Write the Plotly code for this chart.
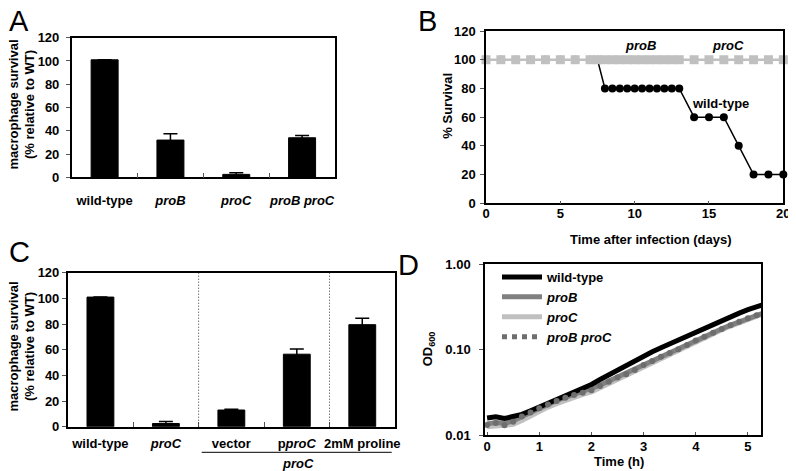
import plotly.graph_objects as go

# page body keeps an 8px margin, so the figure is drawn 8px smaller and offset
W, H = 796, 471
OFF = 8
FW, FH = W - OFF, H - OFF
FONT = "Liberation Sans, Arial, sans-serif"

# ── A: macrophage survival of proline mutants ──
A_STRAINS = ["wild-type", "proB", "proC", "proB proC"]
A_LABELS = ["<b>wild-type</b>", "<b><i>proB</i></b>", "<b><i>proC</i></b>", "<b><i>proB proC</i></b>"]
A_SURVIVAL = [101, 32, 2.5, 34]
A_ERR = [0, 5.5, 1.5, 2]

# ── B: survival after infection ──
B_DAYS = [0, 1, 2, 3, 4, 5, 6, 7, 7.5, 8, 8.5, 9, 9.5, 10, 10.5, 11, 11.5,
          12, 12.5, 13, 14, 15, 16, 17, 18, 19, 20]
B_WT = [100, 100, 100, 100, 100, 100, 100, 100, 100, 80, 80, 80, 80, 80, 80,
        80, 80, 80, 80, 80, 60, 60, 60, 40, 20, 20, 20]
B_MUT_DAYS = [0, 1, 2, 3, 4, 5, 6, 7, 7.5, 8, 8.5, 9, 9.5, 10, 10.5, 11, 11.5,
              12, 12.5, 13, 14, 15, 16, 17, 18, 19, 20]
B_MUT = [100, 100, 100, 100, 100, 100, 100, 100, 100, 100, 100, 100, 100, 100,
         100, 100, 100, 100, 100, 100, 100, 100, 100, 100, 100, 100, 100]

# ── C: complementation ──
C_STRAINS = ["wild-type", "proC", "vector", "pproC", "2mM proline"]
C_LABELS = ["<b>wild-type</b>", "<b><i>proC</i></b>", "<b>vector</b>",
            "<b>p<i>proC</i></b>", "<b>2mM proline</b>"]
C_SURVIVAL = [101, 2.5, 13, 56.5, 79.5]
C_ERR = [0, 1.5, 0.5, 4, 5]

# ── D: growth curves (OD600), every 10 min ──
D_TIME_MIN = [0, 10, 20, 30, 40, 50, 60, 70, 80, 90, 100, 110, 120, 130, 140,
              150, 160, 170, 180, 190, 200, 210, 220, 230, 240, 250, 260, 270,
              280, 290, 300, 310, 320]
D_WT = [0.0158, 0.0163, 0.0156, 0.0162, 0.0174, 0.0192, 0.0212, 0.0234,
        0.0257, 0.0282, 0.0310, 0.0345, 0.0390, 0.0446, 0.0508, 0.0578,
        0.0644, 0.0730, 0.0845, 0.0940, 0.1050, 0.1165, 0.1290, 0.1450,
        0.1625, 0.1800, 0.1990, 0.2210, 0.2420, 0.2660, 0.2920, 0.3180, 0.3400]
D_PROB = [0.0135, 0.0140, 0.0137, 0.0146, 0.0165, 0.0185, 0.0207, 0.0230,
          0.0253, 0.0276, 0.0298, 0.0320, 0.0343, 0.0383, 0.0428, 0.0478,
          0.0525, 0.0585, 0.0670, 0.0745, 0.0830, 0.0920, 0.1020, 0.1140,
          0.1280, 0.1420, 0.1580, 0.1750, 0.1930, 0.2120, 0.2330, 0.2530, 0.2730]
D_PROC = [0.0125, 0.0128, 0.0127, 0.0133, 0.0148, 0.0168, 0.0190, 0.0212,
          0.0233, 0.0255, 0.0277, 0.0298, 0.0320, 0.0358, 0.0402, 0.0450,
          0.0497, 0.0555, 0.0635, 0.0712, 0.0795, 0.0885, 0.0985, 0.1100,
          0.1235, 0.1375, 0.1530, 0.1700, 0.1880, 0.2070, 0.2270, 0.2470, 0.2670]
D_PROBC = [0.0131, 0.0138, 0.0130, 0.0143, 0.0165, 0.0183, 0.0205, 0.0228,
           0.0250, 0.0272, 0.0293, 0.0313, 0.0334, 0.0375, 0.0420, 0.0470,
           0.0515, 0.0575, 0.0660, 0.0735, 0.0820, 0.0910, 0.1010, 0.1130,
           0.1270, 0.1410, 0.1570, 0.1740, 0.1920, 0.2110, 0.2320, 0.2520, 0.2720]
D_HOURS = [m / 60 for m in D_TIME_MIN]

LIGHT = "#c0c0c0"
MID = "#808080"
DOTS = "#6e6e6e"


def px(x):
    return (x - OFF) / FW


def py(y):
    return 1 - (y - OFF) / FH


def bold(size=13):
    return dict(family=FONT, size=size, color="black", weight="bold")


fig = go.Figure()

# A bars
fig.add_trace(go.Bar(
    x=A_STRAINS, y=A_SURVIVAL, width=0.41,
    marker=dict(color="black", line=dict(color="black", width=1)),
    error_y=dict(type="data", array=A_ERR, color="black", thickness=1.5, width=7),
    showlegend=False, xaxis="x", yaxis="y",
))

# B survival
fig.add_trace(go.Scatter(
    x=B_DAYS, y=B_WT, mode="lines+markers",
    line=dict(color="black", width=1.5),
    marker=dict(color="black", size=8, symbol="circle"),
    showlegend=False, xaxis="x2", yaxis="y2", cliponaxis=False,
))
fig.add_trace(go.Scatter(
    x=B_MUT_DAYS, y=B_MUT, mode="lines+markers",
    line=dict(color=LIGHT, width=2.5),
    marker=dict(color=LIGHT, size=9, symbol="square"),
    showlegend=False, xaxis="x2", yaxis="y2", cliponaxis=False,
))

# C bars
fig.add_trace(go.Bar(
    x=C_STRAINS, y=C_SURVIVAL, width=0.41,
    marker=dict(color="black", line=dict(color="black", width=1)),
    error_y=dict(type="data", array=C_ERR, color="black", thickness=1.5, width=7),
    showlegend=False, xaxis="x3", yaxis="y3",
))

# D growth curves
fig.add_trace(go.Scatter(
    x=D_HOURS, y=D_PROC, mode="lines", name="<b><i>proC</i></b>", legendrank=3,
    line=dict(color=LIGHT, width=5), xaxis="x4", yaxis="y4",
))
fig.add_trace(go.Scatter(
    x=D_HOURS, y=D_PROB, mode="lines", name="<b><i>proB</i></b>", legendrank=2,
    line=dict(color=MID, width=5), xaxis="x4", yaxis="y4",
))
fig.add_trace(go.Scatter(
    x=D_HOURS, y=D_WT, mode="lines", name="<b>wild-type</b>", legendrank=1,
    line=dict(color="black", width=5), xaxis="x4", yaxis="y4",
))
fig.add_trace(go.Scatter(
    x=D_HOURS, y=D_PROBC, mode="markers", showlegend=False,
    marker=dict(color=DOTS, size=6), xaxis="x4", yaxis="y4",
))
# legend entry for the dotted series
fig.add_trace(go.Scatter(
    x=[None], y=[None], mode="lines", name="<b><i>proB proC</i></b>", legendrank=4,
    line=dict(color=DOTS, width=5, dash="dot"), xaxis="x4", yaxis="y4",
))

box = dict(showline=True, mirror=True, linecolor="black", linewidth=1.5,
           showgrid=False, zeroline=False, tickfont=bold(13), automargin=False,
           tickcolor="#555", ticklen=4, tickangle=0)

fig.update_layout(
    template="none",
    width=FW, height=FH,
    margin=dict(l=0, r=0, t=0, b=0, pad=0),
    paper_bgcolor="white", plot_bgcolor="white",
    font=bold(13),
    xaxis=dict(box, domain=[px(71.7), px(335)], anchor="y",
               tickvals=A_STRAINS, ticktext=A_LABELS, range=[-0.5, 3.5],
               ticks="inside", tickson="boundaries", ticklen=5,
               ticklabelstandoff=10),
    yaxis=dict(box, domain=[py(177.3), py(37.7)], anchor="x",
               range=[0, 120], dtick=20, ticks="outside", ticklabelstandoff=4),
    xaxis2=dict(box, domain=[px(486), px(783.3)], anchor="y2",
                range=[0, 20], dtick=5, ticks="inside", ticklen=3,
                ticklabelstandoff=-3),
    yaxis2=dict(box, domain=[py(203.3), py(31)], anchor="x2",
                range=[0, 120], dtick=20, ticks="outside", ticklabelstandoff=2),
    xaxis3=dict(box, domain=[px(67.7), px(395)], anchor="y3",
                tickvals=C_STRAINS, ticktext=C_LABELS, range=[-0.5, 4.5],
                ticks="inside", tickson="boundaries", ticklen=5,
                ticklabelstandoff=4),
    yaxis3=dict(box, domain=[py(426.7), py(272.7)], anchor="x3",
                range=[0, 120], dtick=20, ticks="outside", ticklabelstandoff=0),
    xaxis4=dict(box, domain=[px(485), px(761)], anchor="y4",
                range=[-0.04, 5.25], dtick=1, ticks="inside", ticklen=3,
                ticklabelstandoff=-1),
    yaxis4=dict(box, domain=[py(435), py(264)], anchor="x4",
                type="log", range=[-2, 0], tickvals=[0.01, 0.1, 1],
                ticktext=["0.01", "0.10", "1.00"], ticks="outside",
                ticklabelstandoff=6),
    legend=dict(x=px(497), y=py(262), xanchor="left", yanchor="top",
                bgcolor="rgba(0,0,0,0)", font=bold(13), itemwidth=40,
                tracegroupgap=0, traceorder="normal", borderwidth=0),
)

# dotted separators and group underline in C
for xv in (1.5, 3.5):
    fig.add_shape(type="line", xref="x3", yref="y3 domain", x0=xv, x1=xv,
                  y0=0, y1=1, line=dict(color="#333", width=1, dash="1px,2px"))
fig.add_shape(type="line", xref="paper", yref="paper",
              x0=px(201.7), x1=px(391.7), y0=py(452.3), y1=py(452.3),
              line=dict(color="black", width=1))

ann = []


def note(x, y, text, size=13, angle=0, weight="bold", xref="paper", yref="paper"):
    if weight == "bold":
        text = "<b>" + text + "</b>"
    ann.append(dict(x=x, y=y, xref=xref, yref=yref, text=text, showarrow=False,
                    textangle=angle, xanchor="center", yanchor="middle",
                    font=dict(family=FONT, size=size, color="black", weight=weight)))


# panel letters
note(px(19), py(21), "A", size=29, weight="normal")
note(px(427), py(21), "B", size=29, weight="normal")
note(px(19), py(252), "C", size=29, weight="normal")
note(px(408), py(265), "D", size=29, weight="normal")

# axis titles
note(px(21.5), py(105), "macrophage survival<br>(% relative to WT)", angle=-90)
note(px(21.5), py(347), "macrophage survival<br>(% relative to WT)", angle=-90)
note(px(446.7), py(106), "% Survival", angle=-90)
note(px(651), py(239.3), "Time after infection (days)")
note(px(428.3), py(349), "OD<sub>600</sub>", angle=-90)
note(px(619), py(461.7), "Time (h)")

# labels inside B
note(10.36, 110, "<i>proB</i>", xref="x2", yref="y2")
note(16.3, 110, "<i>proC</i>", xref="x2", yref="y2")
note(15.75, 69.6, "wild-type", xref="x2", yref="y2")

# group label under C
note(px(298), py(463.3), "<i>proC</i>")

fig.update_layout(annotations=ann)

fig.write_html("out.html")
